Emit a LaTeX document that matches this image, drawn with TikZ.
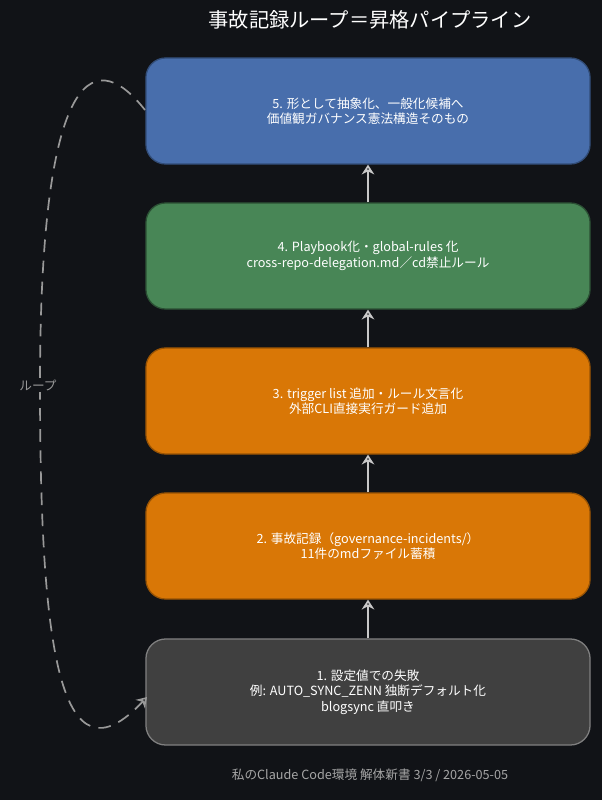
\documentclass[tikz,border=0pt]{standalone}
\usepackage{fontspec}
\setmainfont{Noto Sans CJK JP}
\usetikzlibrary{positioning, arrows.meta}
\definecolor{bgcolor}{RGB}{17, 19, 23}
\definecolor{stagefive}{RGB}{72, 110, 172}
\definecolor{stagefour}{RGB}{72, 134, 86}
\definecolor{stageorange}{RGB}{217, 119, 6}
\definecolor{stageone}{RGB}{64, 64, 64}
\definecolor{linecolor}{RGB}{200, 200, 200}

\begin{document}
\begin{tikzpicture}[x=0.025cm, y=-0.025cm,
    stage/.style={draw, line width=0.9pt, rounded corners=14pt, minimum width=11.1cm, minimum height=2.65cm, text centered, text=white, font=\small, align=center},
    arrow/.style={-{Stealth[open, length=7pt, width=9pt]}, linecolor, line width=1.2pt}
]
\fill[bgcolor] (0,0) rectangle (602,800);
\useasboundingbox (0,0) rectangle (602,800);

% Title
\node[text=white, font=\Large] (title) at (370,20) {事故記録ループ＝昇格パイプライン};

% Stages
\node[stage, fill=stagefive, draw=stagefive!70!black] (five) at (368,111) {5. 形として抽象化、一般化候補へ\\価値観ガバナンス憲法構造そのもの};
\node[stage, fill=stagefour, draw=stagefour!60!black] (four) at (368,256) {4. Playbook化・global-rules 化\\cross-repo-delegation.md／cd禁止ルール};
\node[stage, fill=stageorange, draw=stageorange!70!black] (three) at (368,401) {3. trigger list 追加・ルール文言化\\外部CLI直接実行ガード追加};
\node[stage, fill=stageorange, draw=stageorange!70!black] (two) at (368,546) {2. 事故記録（governance-incidents/）\\11件のmdファイル蓄積};
\node[stage, fill=stageone, draw=gray] (one) at (368,692) {1. 設定値での失敗\\例: AUTO\_SYNC\_ZENN 独断デフォルト化\\blogsync 直叩き};

% Arrows
\draw[arrow] (one) -- (two);
\draw[arrow] (two) -- (three);
\draw[arrow] (three) -- (four);
\draw[arrow] (four) -- (five);

% Loop
\coordinate (loopstart) at (145,110);
\coordinate (loopend) at (147,697);
\draw[arrow, dashed, dash pattern=on 9pt off 6pt, gray!80] (loopstart) .. controls (90,40) and (40,80) .. (40,385)
  .. controls (40,650) and (60,790) .. (loopend);
\node[text=gray!80, font=\small, fill=bgcolor, inner sep=1pt] (looplabel) at (38,385) {ループ};

% Footer
\node[text=gray!70, font=\small] (footer) at (370,775) {私のClaude Code環境 解体新書 3/3 / 2026-05-05};
\end{tikzpicture}
\end{document}
